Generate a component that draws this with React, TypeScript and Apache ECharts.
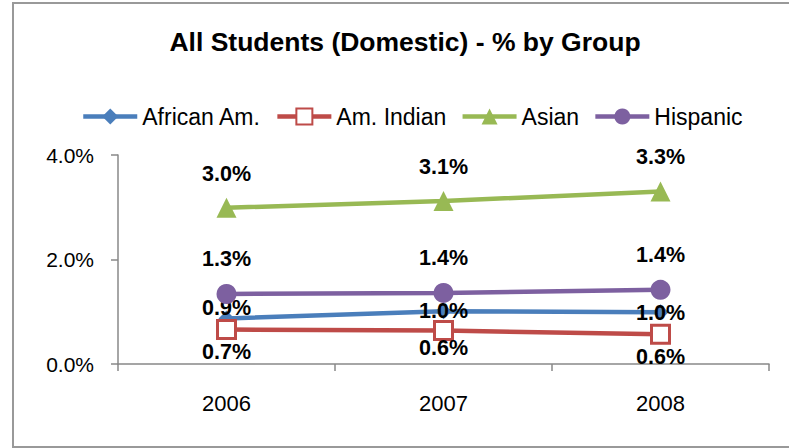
import React, { useEffect, useRef } from "react";
import * as echarts from "echarts";

const categories = ["2006", "2007", "2008"];
const africanAm = [0.87, 1.01, 0.99];
const amIndian = [0.66, 0.64, 0.57];
const asian = [2.99, 3.12, 3.3];
const hispanic = [1.34, 1.36, 1.42];
const yTicks = [0, 2, 4];

const africanLabelDy = [-11, 0, 1];
const amIndianLabelDy = [22, 17, 23];

const FONT = "Liberation Sans, Arial, sans-serif";

export default function App() {
  const ref = useRef<HTMLDivElement>(null);
  useEffect(() => {
    if (!ref.current) return;
    const chart = echarts.init(ref.current, null, { renderer: "svg" });
    const labelBase = {
      show: true,
      position: "inside",
      fontFamily: FONT,
      fontWeight: "bold",
      fontSize: 21.5,
      color: "#000",
      formatter: (p: any) => Number(p.value).toFixed(1) + "%",
    };
    const mkData = (vals: number[], dys?: number[]) =>
      vals.map((v, i) => ({
        value: v,
        label: dys ? { offset: [0, dys[i]] } : undefined,
      }));
    chart.setOption({
      animation: false,
      backgroundColor: "#fff",
      title: {
        text: "All Students (Domestic) - % by Group",
        left: 400,
        top: 23,
        textAlign: "center",
        textStyle: { fontFamily: FONT, fontWeight: "bold", fontSize: 26.5, color: "#000" },
      },
      legend: {
        left: 76,
        top: 100,
        itemWidth: 54,
        itemHeight: 20,
        itemGap: 14,
        lineStyle: { width: 4.5 },
        textStyle: { fontFamily: FONT, fontSize: 23, color: "#000" },
        data: ["African Am.", "Am. Indian", "Asian", "Hispanic"],
      },
      grid: { left: 118, right: 20, top: 155, bottom: 84, containLabel: false },
      xAxis: {
        type: "category",
        data: categories,
        boundaryGap: true,
        axisLine: { lineStyle: { color: "#888", width: 1.5 } },
        axisTick: { show: true, length: 7, inside: false, alignWithLabel: false, lineStyle: { color: "#888", width: 1.5 } },
        axisLabel: { fontFamily: FONT, fontSize: 22, color: "#000", margin: 28 },
        splitLine: { show: false },
      },
      yAxis: {
        type: "value",
        min: yTicks[0],
        max: yTicks[yTicks.length - 1],
        interval: yTicks[1] - yTicks[0],
        axisLine: { show: true, lineStyle: { color: "#888", width: 1.5 } },
        axisTick: { show: true, length: 7, lineStyle: { color: "#888", width: 1.5 } },
        axisLabel: {
          fontFamily: FONT,
          fontSize: 21,
          color: "#000",
          margin: 24,
          formatter: (v: number) => v.toFixed(1) + "%",
        },
        splitLine: { show: false },
      },
      graphic: [
        {
          type: "rect",
          shape: { x: 13, y: 3, width: 800, height: 444 },
          style: { fill: "none", stroke: "#999", lineWidth: 2 },
          silent: true,
          z: -1,
        },
      ],
      series: [
        {
          name: "African Am.",
          type: "line",
          data: mkData(africanAm, africanLabelDy),
          symbol: "diamond",
          symbolSize: 16,
          lineStyle: { color: "#4A7EBB", width: 4.5 },
          itemStyle: { color: "#4A7EBB" },
          label: labelBase,
          z: 2,
        },
        {
          name: "Am. Indian",
          type: "line",
          data: mkData(amIndian, amIndianLabelDy),
          symbol: "rect",
          symbolSize: 18,
          showAllSymbol: true,
          lineStyle: { color: "#BE4B48", width: 4.5 },
          itemStyle: { color: "#fff", borderColor: "#BE4B48", borderWidth: 3 },
          label: labelBase,
          z: 3,
        },
        {
          name: "Asian",
          type: "line",
          data: mkData(asian, [-34, -34, -35]),
          symbol: "triangle",
          symbolSize: 20,
          lineStyle: { color: "#98B954", width: 4.5 },
          itemStyle: { color: "#98B954" },
          label: labelBase,
          z: 4,
        },
        {
          name: "Hispanic",
          type: "line",
          data: mkData(hispanic, [-35, -35, -35]),
          symbol: "circle",
          symbolSize: 20,
          lineStyle: { color: "#7D60A0", width: 4.5 },
          itemStyle: { color: "#7D60A0" },
          label: labelBase,
          z: 4,
        },
      ],
    });
    return () => chart.dispose();
  }, []);
  return (
    <div
      ref={ref}
      style={{ position: "absolute", left: 0, top: 0, width: 789, height: 448 }}
    />
  );
}
